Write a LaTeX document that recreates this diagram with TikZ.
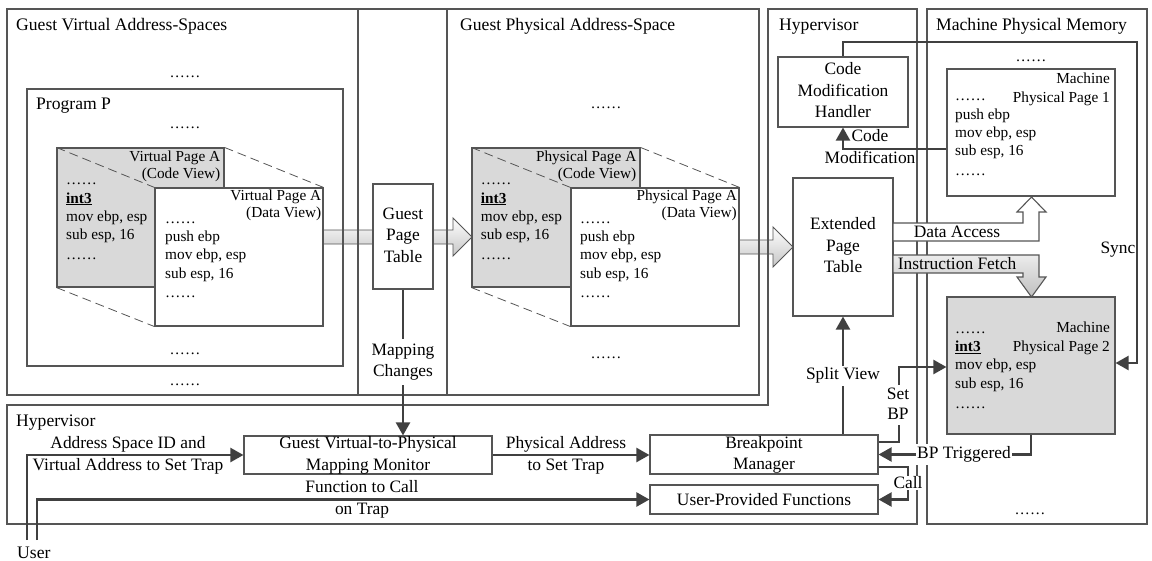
\documentclass[tikz,border=0pt]{standalone}
\usepackage{fontspec}
\setmainfont{Liberation Serif}
\usetikzlibrary{arrows.meta,calc}
\definecolor{edgegray}{HTML}{555555}
\definecolor{wiregray}{HTML}{404040}
\definecolor{pagegray}{HTML}{D9D9D9}
\newcommand\ctrfont{\fontsize{17.4}{21.5}\selectfont}
\newcommand\bpfont{\fontsize{17.4}{20}\selectfont}
\newcommand\lstfont{\fontsize{15.3}{18.3}\selectfont}
\newcommand\hdrfont{\fontsize{15.3}{17.5}\selectfont}
\newcommand\mhdrfont{\fontsize{15.3}{19}\selectfont}
\newcommand\onefont{\fontsize{17.4}{18.5}\selectfont}
\newcommand\titlefont{\fontsize{17.6}{18.5}\selectfont}
\newcommand\dotrow{……}
\newcommand\trapins{\underline{\textbf{int3}}}

\begin{document}
\begin{tikzpicture}[x=1pt,y=-1pt,
  frame/.style={draw=edgegray,line width=1.1pt},
  box/.style={draw=edgegray,line width=1.1pt,fill=white,inner sep=0pt},
  codebox/.style={box,fill=pagegray},
  title/.style={anchor=base west,inner sep=0pt,font=\titlefont},
  dots/.style={anchor=base,inner sep=0pt,font=\lstfont},
  listing/.style={anchor=north west,inner sep=0pt,align=left,font=\lstfont},
  pagehdr/.style={anchor=north east,inner sep=0pt,align=right,font=\hdrfont},
  machhdr/.style={anchor=north east,inner sep=0pt,align=right,font=\mhdrfont},
  boxtext/.style={inner sep=0pt,align=center,font=\ctrfont},
  lbl/.style={inner sep=0pt,align=center,font=\ctrfont},
  wlbl/.style={lbl,inner sep=1.5pt,fill=white},
  wlbl1/.style={inner sep=1pt,font=\onefont,fill=white},
  wire/.style={draw=wiregray,line width=2.2pt,-{Triangle[length=13pt,width=14pt]}},
  fold/.style={draw=edgegray,line width=0.8pt,dash pattern=on 9pt off 5pt},
  bigarrow/.style={draw=edgegray,line width=0.9pt,top color=white,bottom color=gray!45},
]
\useasboundingbox (0,0) rectangle (1152,560);

% shaded page-mapping arrows, under the frame lines
\path[bigarrow] (323,230) -- (453,230) -- (453,218) -- (472,237) -- (453,256) -- (453,244) -- (323,244) -- cycle;
\path[bigarrow] (739,240) -- (773,240) -- (773,227) -- (793,247) -- (773,267) -- (773,254) -- (739,254) -- cycle;

% frames
\draw[frame] (7,9) rectangle (759,395);
\draw[frame] (358,9) -- (358,395) (447,9) -- (447,395);
\draw[frame] (768,9) -- (917,9) -- (917,524) -- (7,524) -- (7,405) -- (768,405) -- cycle;
\draw[frame] (927,9) rectangle (1147,524);

% titles
\node[title] (tgva) at (16,30.5) {Guest Virtual Address-Spaces};
\node[title] (tgpa) at (460,30.5) {Guest Physical Address-Space};
\node[title] (thyp) at (779,30.5) {Hypervisor};
\node[title] (tmpm) at (936,30.5) {Machine Physical Memory};
\node[title] (thyp2) at (16,426) {Hypervisor};
\node[title] (user) at (17,558) {User};

% guest virtual side
\node[dots] (gvd1) at (185,77) {\dotrow};
\node[box,fill=none,minimum width=316,minimum height=277] (progP) at (185,227.5) {};
\node[title] (tprog) at (36,109) {Program P};
\node[dots] (gvd2) at (185,128) {\dotrow};
\node[dots] (gvd3) at (185,354) {\dotrow};
\node[dots] (gvd4) at (185,385) {\dotrow};

\node[codebox,minimum width=167,minimum height=139] (vcode) at (140.5,217.5) {};
\node[box,minimum width=168,minimum height=138] (vdata) at (239,257) {};
\draw[fold] (vcode.north west) -- (vdata.north west);
\draw[fold] (vcode.north east) -- (vdata.north east);
\draw[fold] (vcode.south west) -- (vdata.south west);
\node[pagehdr] (vcodehdr) at (220.5,148.75) {\strut Virtual Page A\\\strut (Code View)};
\node[listing] (vcodelst) at (66,171.7) {\strut\dotrow\\\strut\trapins\\\strut mov ebp, esp\\\strut sub esp, 16\\[2pt]\strut\dotrow};
\node[pagehdr] (vdatahdr) at (321.5,187.75) {\strut Virtual Page A\\\strut (Data View)};
\node[listing] (vdatalst) at (165,210.2) {\strut\dotrow\\\strut push ebp\\\strut mov ebp, esp\\\strut sub esp, 16\\[1.5pt]\strut\dotrow};

% guest page table
\node[box,minimum width=60,minimum height=105] (gpt) at (403,236.5) {};
\node[boxtext] (gptt) at (gpt) {\strut Guest\\\strut Page\\\strut Table};

% guest physical side
\node[dots] (gpd1) at (606,108) {\dotrow};
\node[dots] (gpd2) at (606,358) {\dotrow};
\node[codebox,minimum width=168,minimum height=139] (pcode) at (556,217.5) {};
\node[box,minimum width=168,minimum height=138] (pdata) at (655,257) {};
\draw[fold] (pcode.north west) -- (pdata.north west);
\draw[fold] (pcode.north east) -- (pdata.north east);
\draw[fold] (pcode.south west) -- (pdata.south west);
\node[pagehdr] (pcodehdr) at (636.5,148.75) {\strut Physical Page A\\\strut (Code View)};
\node[listing] (pcodelst) at (480.7,171.7) {\strut\dotrow\\\strut\trapins\\\strut mov ebp, esp\\\strut sub esp, 16\\[2pt]\strut\dotrow};
\node[pagehdr] (pdatahdr) at (737,187.75) {\strut Physical Page A\\\strut (Data View)};
\node[listing] (pdatalst) at (580,210.2) {\strut\dotrow\\\strut push ebp\\\strut mov ebp, esp\\\strut sub esp, 16\\[1.5pt]\strut\dotrow};

% hypervisor column
\node[box,minimum width=130,minimum height=70] (cmh) at (843,92) {};
\node[boxtext] (cmht) at (cmh) {\strut Code\\\strut Modification\\\strut Handler};
\node[box,minimum width=100,minimum height=138] (ept) at (843,247) {};
\node[boxtext] (eptt) at (ept) {\strut Extended\\\strut Page\\\strut Table};

% machine memory
\node[dots] (md1) at (1031,61.5) {\dotrow};
\node[dots] (md2) at (1030,514) {\dotrow};
\node[box,minimum width=168,minimum height=127] (mp1) at (1031,132.5) {};
\node[machhdr] (mp1hdr) at (1110,70) {\strut Machine\\\strut Physical Page 1};
\node[listing] (mp1lst) at (955,87.7) {\strut\dotrow\\\strut push ebp\\\strut mov ebp, esp\\\strut sub esp, 16\\[2pt]\strut\dotrow};
\node[codebox,minimum width=168,minimum height=137] (mp2) at (1031,365.5) {};
\node[machhdr] (mp2hdr) at (1110,318.7) {\strut Machine\\\strut Physical Page 2};
\node[listing] (mp2lst) at (955,320.2) {\strut\dotrow\\\strut\trapins\\\strut mov ebp, esp\\\strut sub esp, 16\\[2pt]\strut\dotrow};

% EPT access paths
\path[draw=edgegray,line width=1.1pt,fill=white] (893,223) -- (1023,223) -- (1023,212) -- (1017,212) -- (1031.5,197) -- (1046,212) -- (1039,212) -- (1039,241) -- (893,241) -- cycle;
\node[inner sep=0pt,font=\onefont] (daccess) at (957,232) {Data Access};
\path[draw=edgegray,line width=1.1pt,top color=gray!15,bottom color=gray!50] (893,255) -- (1039,255) -- (1039,277) -- (1046,277) -- (1031.5,297) -- (1017,277) -- (1023,277) -- (1023,273) -- (893,273) -- cycle;
\node[inner sep=0pt,font=\onefont] (ifetch) at (957,264) {Instruction Fetch};

% lower hypervisor boxes
\node[box,minimum width=248,minimum height=38] (gvpmm) at (368,455) {};
\node[boxtext] (gvpmmt) at (gvpmm) {\strut Guest Virtual-to-Physical\\\strut Mapping Monitor};
\node[box,minimum width=228,minimum height=39] (bm) at (764,454.5) {};
\node[boxtext] (bmt) at (bm) {\strut Breakpoint\\\strut Manager};
\node[box,minimum width=228,minimum height=29] (upf) at (764,499.5) {};
\node[boxtext,font=\onefont] (upft) at (upf) {User-Provided Functions};

% connectors
\coordinate (u1) at (27,540);
\coordinate (u2) at (37,540);
\draw[wire] (u1) |- (gvpmm.west);
\draw[wire] (u2) |- (upf.west);
\draw[wire] (gpt.south) -- (gpt.south |- gvpmm.north);
\draw[wire] (gvpmm.east) -- (gvpmm.east -| bm.west);
\draw[wire] (bm.north -| ept.south) -- (ept.south);
\draw[wire] ($(bm.east)+(0,-12.5)$) -| (899,367) -- (mp2.west |- 899,367);
\draw[wire] (mp2.south) |- (bm.east);
\draw[wire] ($(bm.east)+(0,12.5)$) -| (908,483) |- (upf.east);
\draw[wire] (mp1.west |- 0,149) -| (cmh.south);
\draw[wire] (cmh.north) |- (1137,42) |- ($(mp2.east)+(0,-2.5)$);

% connector labels
\node[lbl] (asid) at (128,455) {\strut Address Space ID and\\\strut Virtual Address to Set Trap};
\node[lbl] (fcall) at (362,499) {\strut Function to Call\\\strut on Trap};
\node[wlbl] (mapchg) at (403,361.5) {\strut Mapping\\\strut Changes};
\node[lbl] (paddr) at (566,455) {\strut Physical Address\\\strut to Set Trap};
\node[wlbl1] (splitv) at (843,376) {\strut Split View};
\node[wlbl,inner sep=0pt,font=\bpfont] (setbp) at (898,405) {\strut Set\\\strut BP};
\node[wlbl1] (bptrig) at (964,454.5) {\strut BP Triggered};
\node[wlbl1] (calllbl) at (908,483) {Call};
\node[lbl] (cmlbl) at (870,148) {\strut Code\\\strut Modification};
\node[inner sep=0pt,font=\onefont,anchor=east] (synclbl) at (1135.5,250) {Sync};
\end{tikzpicture}
\end{document}
